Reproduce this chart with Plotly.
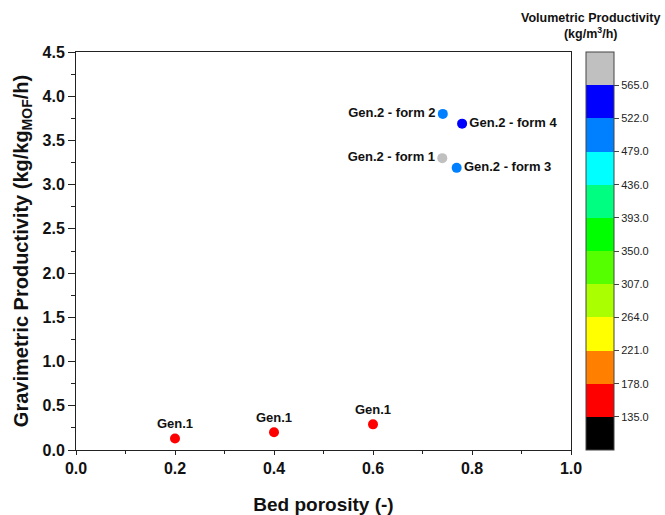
import plotly.graph_objects as go

# Data
labels = ["Gen.1", "Gen.1", "Gen.1", "Gen.2 - form 1", "Gen.2 - form 2", "Gen.2 - form 3", "Gen.2 - form 4"]
bed_porosity = [0.2, 0.4, 0.6, 0.74, 0.741, 0.769, 0.78]
gravimetric = [0.13, 0.20, 0.29, 3.30, 3.80, 3.19, 3.69]
volumetric = [150, 155, 160, 585, 500, 490, 540]
text_positions = ["top center", "top center", "top center", "middle left", "middle left", "middle right", "middle right"]

cb_tickvals = [135, 178, 221, 264, 307, 350, 393, 436, 479, 522, 565]
cb_ticktext = ["%.1f" % v for v in cb_tickvals]
bin_colors = ["#000000", "#FF0000", "#FF8000", "#FFFF00", "#AAFF00", "#55FF00",
              "#00FF00", "#00FF80", "#00FFFF", "#0080FF", "#0000FF", "#C0C0C0"]
cmin, cmax = 92, 608

n = len(bin_colors)
colorscale = []
for i, c in enumerate(bin_colors):
    colorscale.append([i / n, c])
    colorscale.append([(i + 1) / n, c])

FONT = "Liberation Sans, Arial, sans-serif"

fig = go.Figure()
fig.add_trace(go.Scatter(
    x=bed_porosity, y=gravimetric, mode="markers+text",
    text=labels, textposition=text_positions,
    textfont=dict(family=FONT, size=13, color="#111111", weight="bold"),
    marker=dict(size=10, color=volumetric, colorscale=colorscale, cmin=cmin, cmax=cmax,
                line=dict(width=0),
                colorbar=dict(
                    x=(586 - 76) / 495, xanchor="left", xref="paper",
                    y=0.5, yanchor="middle", len=398, lenmode="pixels",
                    thickness=28, thicknessmode="pixels", xpad=0, ypad=0,
                    outlinewidth=1, outlinecolor="#444444",
                    tickmode="array", tickvals=cb_tickvals, ticktext=cb_ticktext,
                    ticks="outside", ticklen=5, tickcolor="#444444",
                    tickfont=dict(family=FONT, size=11, color="#222222"),
                )),
    showlegend=False, cliponaxis=False,
))

fig.add_annotation(xref="paper", yref="paper", x=(590 - 76) / 495, y=1 + (52 - 26) / 398,
                   text="Volumetric Productivity<br>(kg/m<sup>3</sup>/h)", showarrow=False,
                   font=dict(family=FONT, size=12.5, color="#111111", weight="bold"),
                   xanchor="center", yanchor="middle")

fig.update_xaxes(range=[0, 1], tickvals=[0, 0.2, 0.4, 0.6, 0.8, 1.0], ticktext=["0.0", "0.2", "0.4", "0.6", "0.8", "1.0"],
                 ticks="outside", ticklen=4, tickwidth=1, tickcolor="#222222",
                 minor=dict(dtick=0.1, ticks="outside", ticklen=3, tickcolor="#222222"),
                 showline=True, linecolor="#222222", linewidth=1, mirror=True,
                 showgrid=False, zeroline=False,
                 tickfont=dict(family=FONT, size=16, color="#111111", weight="bold"),
                 title=dict(text="Bed porosity (-)", standoff=22,
                            font=dict(family=FONT, size=19, color="#111111", weight="bold")))
fig.update_yaxes(range=[0, 4.5], tickvals=[0, 0.5, 1, 1.5, 2, 2.5, 3, 3.5, 4, 4.5],
                 ticktext=["0.0", "0.5", "1.0", "1.5", "2.0", "2.5", "3.0", "3.5", "4.0", "4.5"],
                 ticks="outside", ticklen=7, tickwidth=1, tickcolor="#222222",
                 minor=dict(dtick=0.25, ticks="outside", ticklen=4, tickcolor="#222222"),
                 showline=True, linecolor="#222222", linewidth=1, mirror=True,
                 showgrid=False, zeroline=False,
                 tickfont=dict(family=FONT, size=16, color="#111111", weight="bold"),
                 title=dict(text="Gravimetric Productivity (kg/kg<sub>MOF</sub>/h)", standoff=8,
                            font=dict(family=FONT, size=20, color="#111111", weight="bold")))

fig.update_layout(width=665, height=515, margin=dict(l=76, r=94, t=52, b=65, autoexpand=False),
                  plot_bgcolor="white", paper_bgcolor="white")

fig.write_html("out.html")
